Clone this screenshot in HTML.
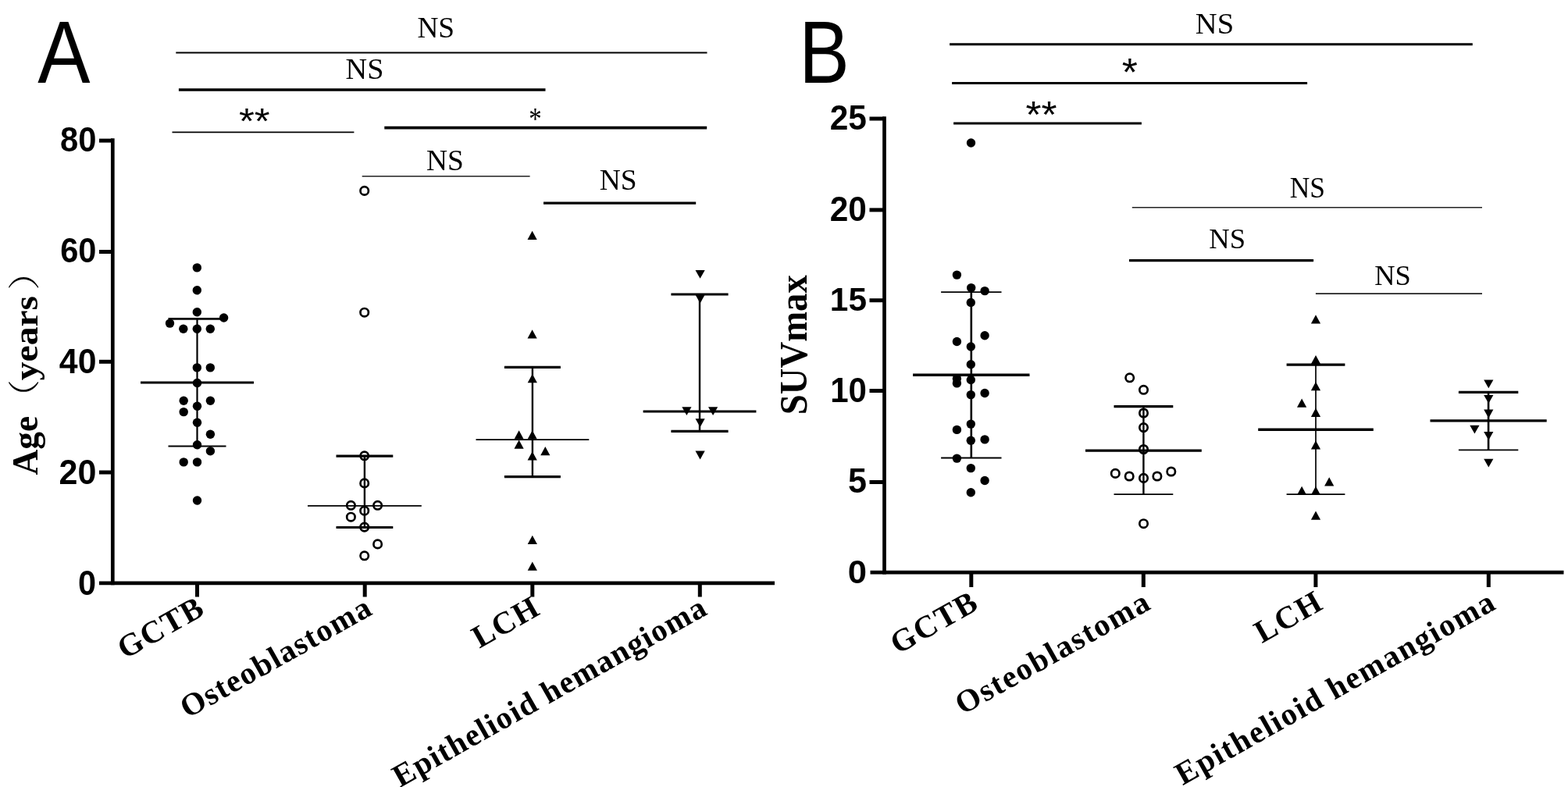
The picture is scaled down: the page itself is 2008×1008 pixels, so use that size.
<!DOCTYPE html>
<html><head><meta charset="utf-8"><title>Figure</title>
<style>html,body{margin:0;padding:0;background:#fff;}body{width:2008px;height:1008px;overflow:hidden;}svg{display:block;}</style>
</head><body>
<svg width="2008" height="1008" viewBox="0 0 2008 1008"><rect width="2008" height="1008" fill="#fff"/><line x1="144.3" y1="177.3" x2="144.3" y2="749.2" stroke="#000" stroke-width="4.7"/><line x1="127.0" y1="746.9" x2="992.0" y2="746.9" stroke="#000" stroke-width="4.7"/><line x1="127.0" y1="180.1" x2="144.3" y2="180.1" stroke="#000" stroke-width="5.0"/><line x1="127.0" y1="322.5" x2="144.3" y2="322.5" stroke="#000" stroke-width="5.0"/><line x1="127.0" y1="463.3" x2="144.3" y2="463.3" stroke="#000" stroke-width="5.0"/><line x1="127.0" y1="605.0" x2="144.3" y2="605.0" stroke="#000" stroke-width="5.0"/><line x1="252.5" y1="746.9" x2="252.5" y2="764.5" stroke="#000" stroke-width="5.0"/><line x1="467.2" y1="746.9" x2="467.2" y2="764.5" stroke="#000" stroke-width="5.0"/><line x1="681.8" y1="746.9" x2="681.8" y2="764.5" stroke="#000" stroke-width="5.0"/><line x1="896.3" y1="746.9" x2="896.3" y2="764.5" stroke="#000" stroke-width="5.0"/><text transform="matrix(0.9486,0,0,0.9920,76.98,194.40)" x="0" y="0" font-family="'Liberation Sans',Arial,sans-serif" font-size="44" font-weight="bold" >80</text><text transform="matrix(0.9443,0,0,0.9888,77.18,336.01)" x="0" y="0" font-family="'Liberation Sans',Arial,sans-serif" font-size="44" font-weight="bold" >60</text><text transform="matrix(0.9720,0,0,0.9920,75.87,478.10)" x="0" y="0" font-family="'Liberation Sans',Arial,sans-serif" font-size="44" font-weight="bold" >40</text><text transform="matrix(0.9792,0,0,1.0016,75.53,620.00)" x="0" y="0" font-family="'Liberation Sans',Arial,sans-serif" font-size="44" font-weight="bold" >20</text><text transform="matrix(0.9429,0,0,1.0080,100.05,761.90)" x="0" y="0" font-family="'Liberation Sans',Arial,sans-serif" font-size="44" font-weight="bold" >0</text><text transform="matrix(0,-0.9673,0.9939,0,47.61,608.58)" x="0" y="0" font-family="'Liberation Serif','Times New Roman',serif" font-size="47" font-weight="bold" >Age</text><text transform="matrix(0,-0.9585,0.8709,0,46.32,531.37)" x="0" y="0" font-family="'Noto Serif CJK SC','Noto Sans CJK SC',serif" font-size="47" font-weight="300" >（</text><text transform="matrix(0,-1.0133,0.9612,0,48.19,487.31)" x="0" y="0" font-family="'Liberation Serif','Times New Roman',serif" font-size="47" font-weight="bold" >years</text><text transform="matrix(0,-1.0340,0.8731,0,46.31,371.70)" x="0" y="0" font-family="'Noto Serif CJK SC','Noto Sans CJK SC',serif" font-size="47" font-weight="300" >）</text><text transform="translate(264.8,785.7) rotate(-29.4)" font-family="'Liberation Serif','Times New Roman',serif" font-size="40.5" font-weight="bold" text-anchor="end" letter-spacing="1.4">GCTB</text><text transform="translate(479.5,785.7) rotate(-29.4)" font-family="'Liberation Serif','Times New Roman',serif" font-size="40.5" font-weight="bold" text-anchor="end" letter-spacing="1.4">Osteoblastoma</text><text transform="translate(694.1,785.7) rotate(-29.4)" font-family="'Liberation Serif','Times New Roman',serif" font-size="40.5" font-weight="bold" text-anchor="end" letter-spacing="1.4">LCH</text><text transform="translate(908.6,785.7) rotate(-29.4)" font-family="'Liberation Serif','Times New Roman',serif" font-size="40.5" font-weight="bold" text-anchor="end" letter-spacing="1.4">Epithelioid hemangioma</text><circle cx="252.3" cy="342.9" r="5.7"/><circle cx="252.3" cy="371.8" r="5.7"/><circle cx="252.3" cy="399.8" r="5.7"/><circle cx="286.6" cy="407.0" r="5.7"/><circle cx="217.5" cy="414.1" r="5.7"/><circle cx="234.8" cy="421.3" r="5.7"/><circle cx="252.3" cy="421.3" r="5.7"/><circle cx="269.3" cy="421.3" r="5.7"/><circle cx="252.3" cy="470.9" r="5.7"/><circle cx="269.3" cy="470.9" r="5.7"/><circle cx="252.5" cy="490.5" r="5.7"/><circle cx="235.2" cy="513.2" r="5.7"/><circle cx="269.4" cy="513.2" r="5.7"/><circle cx="252.5" cy="520.2" r="5.7"/><circle cx="235.2" cy="527.6" r="5.7"/><circle cx="252.5" cy="541.3" r="5.7"/><circle cx="269.4" cy="556.2" r="5.7"/><circle cx="252.5" cy="569.8" r="5.7"/><circle cx="269.4" cy="577.7" r="5.7"/><circle cx="235.2" cy="591.9" r="5.7"/><circle cx="252.5" cy="591.9" r="5.7"/><circle cx="252.5" cy="641.0" r="5.7"/><line x1="252.5" y1="408.4" x2="252.5" y2="571.5" stroke="#000" stroke-width="2.2"/><line x1="215.5" y1="408.4" x2="289.5" y2="408.4" stroke="#000" stroke-width="2.8"/><line x1="215.5" y1="571.5" x2="289.5" y2="571.5" stroke="#000" stroke-width="2.2"/><line x1="180.0" y1="490.0" x2="325.0" y2="490.0" stroke="#000" stroke-width="3.2"/><circle cx="466.7" cy="244.4" r="5.2" fill="none" stroke="#000" stroke-width="2.7"/><circle cx="466.7" cy="400.2" r="5.2" fill="none" stroke="#000" stroke-width="2.7"/><circle cx="466.7" cy="583.8" r="5.2" fill="none" stroke="#000" stroke-width="2.7"/><circle cx="466.7" cy="618.9" r="5.2" fill="none" stroke="#000" stroke-width="2.7"/><circle cx="449.4" cy="647.3" r="5.2" fill="none" stroke="#000" stroke-width="2.7"/><circle cx="483.6" cy="647.3" r="5.2" fill="none" stroke="#000" stroke-width="2.7"/><circle cx="466.7" cy="654.2" r="5.2" fill="none" stroke="#000" stroke-width="2.7"/><circle cx="449.4" cy="662.2" r="5.2" fill="none" stroke="#000" stroke-width="2.7"/><circle cx="466.7" cy="675.1" r="5.2" fill="none" stroke="#000" stroke-width="2.7"/><circle cx="483.6" cy="696.9" r="5.2" fill="none" stroke="#000" stroke-width="2.7"/><circle cx="466.7" cy="711.8" r="5.2" fill="none" stroke="#000" stroke-width="2.7"/><line x1="466.9" y1="584.2" x2="466.9" y2="675.5" stroke="#000" stroke-width="2.4"/><line x1="430.5" y1="584.2" x2="503.3" y2="584.2" stroke="#000" stroke-width="3.2"/><line x1="430.5" y1="675.5" x2="503.3" y2="675.5" stroke="#000" stroke-width="3.2"/><line x1="394.0" y1="647.9" x2="539.8" y2="647.9" stroke="#000" stroke-width="1.8"/><path d="M675.5 307.0L687.7 307.0L681.6 295.7Z"/><path d="M675.5 433.6L687.7 433.6L681.6 422.3Z"/><path d="M675.7 490.3L687.9 490.3L681.8 479.0Z"/><path d="M658.5 562.5L670.7 562.5L664.6 551.2Z"/><path d="M675.6 562.5L687.8 562.5L681.7 551.2Z"/><path d="M658.5 574.8L670.7 574.8L664.6 563.5Z"/><path d="M692.2 583.2L704.4 583.2L698.3 571.9Z"/><path d="M675.6 589.5L687.8 589.5L681.7 578.2Z"/><path d="M675.7 697.0L687.9 697.0L681.8 685.7Z"/><path d="M675.7 730.7L687.9 730.7L681.8 719.4Z"/><line x1="681.9" y1="470.4" x2="681.9" y2="610.7" stroke="#000" stroke-width="2.4"/><line x1="645.9" y1="470.4" x2="717.9" y2="470.4" stroke="#000" stroke-width="3.2"/><line x1="645.9" y1="610.7" x2="717.9" y2="610.7" stroke="#000" stroke-width="3.2"/><line x1="609.5" y1="563.2" x2="754.3" y2="563.2" stroke="#000" stroke-width="1.8"/><path d="M890.5 345.9L902.7 345.9L896.6 356.7Z"/><path d="M890.5 377.6L902.7 377.6L896.6 388.4Z"/><path d="M873.3 521.3L885.5 521.3L879.4 532.1Z"/><path d="M907.0 521.3L919.2 521.3L913.1 532.1Z"/><path d="M890.5 536.2L902.7 536.2L896.6 547.0Z"/><path d="M890.5 577.6L902.7 577.6L896.6 588.4Z"/><line x1="896.0" y1="377.0" x2="896.0" y2="552.4" stroke="#000" stroke-width="2.4"/><line x1="859.4" y1="377.0" x2="932.6" y2="377.0" stroke="#000" stroke-width="3.2"/><line x1="859.4" y1="552.4" x2="932.6" y2="552.4" stroke="#000" stroke-width="3.2"/><line x1="823.6" y1="527.0" x2="968.4" y2="527.0" stroke="#000" stroke-width="3.2"/><text transform="matrix(1.0091,0,0,1.0101,534.39,47.85)" x="0" y="0" font-family="'Liberation Serif','Times New Roman',serif" font-size="37" font-weight="normal" >NS</text><line x1="225.3" y1="67.5" x2="905.5" y2="67.5" stroke="#000" stroke-width="2.0"/><text transform="matrix(1.0318,0,0,1.0182,442.57,101.45)" x="0" y="0" font-family="'Liberation Serif','Times New Roman',serif" font-size="37" font-weight="normal" >NS</text><line x1="228.9" y1="115.0" x2="698.5" y2="115.0" stroke="#000" stroke-width="3.6"/><text transform="matrix(1.2739,0,0,1.1786,305.94,170.91)" x="0" y="0" font-family="'Liberation Sans',Arial,sans-serif" font-size="40" font-weight="normal" >**</text><line x1="220.5" y1="169.3" x2="453.4" y2="169.3" stroke="#000" stroke-width="1.8"/><text transform="matrix(1.0917,0,0,1.3302,677.16,164.54)" x="0" y="0" font-family="'Liberation Serif','Times New Roman',serif" font-size="30" font-weight="normal" >*</text><line x1="492.3" y1="163.6" x2="905.2" y2="163.6" stroke="#000" stroke-width="3.8"/><text transform="matrix(1.0114,0,0,1.0182,545.89,218.25)" x="0" y="0" font-family="'Liberation Serif','Times New Roman',serif" font-size="37" font-weight="normal" >NS</text><line x1="463.7" y1="225.8" x2="678.6" y2="225.8" stroke="#222" stroke-width="1.6"/><text transform="matrix(1.0114,0,0,1.0182,767.69,243.25)" x="0" y="0" font-family="'Liberation Serif','Times New Roman',serif" font-size="37" font-weight="normal" >NS</text><line x1="696.0" y1="260.2" x2="891.2" y2="260.2" stroke="#000" stroke-width="3.2"/><text transform="matrix(0.9010,0,0,1.0039,48.27,106.20)" x="0" y="0" font-family="'Liberation Sans',Arial,sans-serif" font-size="112" font-weight="normal" >A</text><text transform="matrix(0.8639,0,0,1.0026,1023.31,106.20)" x="0" y="0" font-family="'Liberation Sans',Arial,sans-serif" font-size="112" font-weight="normal" >B</text><line x1="1132.5" y1="149.3" x2="1132.5" y2="735.6" stroke="#000" stroke-width="4.7"/><line x1="1114.5" y1="733.2" x2="2002.5" y2="733.2" stroke="#000" stroke-width="4.7"/><line x1="1113.5" y1="152.0" x2="1132.5" y2="152.0" stroke="#000" stroke-width="5.0"/><line x1="1113.5" y1="268.9" x2="1132.5" y2="268.9" stroke="#000" stroke-width="5.0"/><line x1="1113.5" y1="384.7" x2="1132.5" y2="384.7" stroke="#000" stroke-width="5.0"/><line x1="1113.5" y1="500.5" x2="1132.5" y2="500.5" stroke="#000" stroke-width="5.0"/><line x1="1113.5" y1="617.5" x2="1132.5" y2="617.5" stroke="#000" stroke-width="5.0"/><line x1="1243.8" y1="733.2" x2="1243.8" y2="752.0" stroke="#000" stroke-width="5.0"/><line x1="1464.3" y1="733.2" x2="1464.3" y2="752.0" stroke="#000" stroke-width="5.0"/><line x1="1684.9" y1="733.2" x2="1684.9" y2="752.0" stroke="#000" stroke-width="5.0"/><line x1="1906.3" y1="733.2" x2="1906.3" y2="752.0" stroke="#000" stroke-width="5.0"/><text transform="matrix(0.9643,0,0,0.9920,1062.75,165.90)" x="0" y="0" font-family="'Liberation Sans',Arial,sans-serif" font-size="44" font-weight="bold" >25</text><text transform="matrix(0.9639,0,0,0.9984,1062.75,282.90)" x="0" y="0" font-family="'Liberation Sans',Arial,sans-serif" font-size="44" font-weight="bold" >20</text><text transform="matrix(0.9622,0,0,0.9691,1062.85,398.12)" x="0" y="0" font-family="'Liberation Sans',Arial,sans-serif" font-size="44" font-weight="bold" >15</text><text transform="matrix(0.9551,0,0,0.9952,1063.17,514.90)" x="0" y="0" font-family="'Liberation Sans',Arial,sans-serif" font-size="44" font-weight="bold" >10</text><text transform="matrix(0.9793,0,0,1.0146,1086.03,631.49)" x="0" y="0" font-family="'Liberation Sans',Arial,sans-serif" font-size="44" font-weight="bold" >5</text><text transform="matrix(0.9905,0,0,0.9472,1085.77,747.03)" x="0" y="0" font-family="'Liberation Sans',Arial,sans-serif" font-size="44" font-weight="bold" >0</text><text transform="matrix(0,-0.9732,1.0554,0,1032.91,531.23)" x="0" y="0" font-family="'Liberation Serif','Times New Roman',serif" font-size="48" font-weight="bold" >SUVmax</text><text transform="translate(1256.1,778.5) rotate(-29.4)" font-family="'Liberation Serif','Times New Roman',serif" font-size="40.5" font-weight="bold" text-anchor="end" letter-spacing="1.8">GCTB</text><text transform="translate(1476.6,778.5) rotate(-29.4)" font-family="'Liberation Serif','Times New Roman',serif" font-size="40.5" font-weight="bold" text-anchor="end" letter-spacing="1.8">Osteoblastoma</text><text transform="translate(1697.2,778.5) rotate(-29.4)" font-family="'Liberation Serif','Times New Roman',serif" font-size="40.5" font-weight="bold" text-anchor="end" letter-spacing="1.8">LCH</text><text transform="translate(1918.6,778.5) rotate(-29.4)" font-family="'Liberation Serif','Times New Roman',serif" font-size="40.5" font-weight="bold" text-anchor="end" letter-spacing="1.8">Epithelioid hemangioma</text><circle cx="1243.5" cy="183.0" r="5.7"/><circle cx="1225.4" cy="352.1" r="5.7"/><circle cx="1243.7" cy="368.6" r="5.7"/><circle cx="1261.1" cy="372.6" r="5.7"/><circle cx="1243.3" cy="387.5" r="5.7"/><circle cx="1261.1" cy="429.7" r="5.7"/><circle cx="1225.4" cy="437.5" r="5.7"/><circle cx="1243.3" cy="444.0" r="5.7"/><circle cx="1243.3" cy="466.8" r="5.7"/><circle cx="1225.4" cy="485.0" r="5.7"/><circle cx="1225.4" cy="490.9" r="5.7"/><circle cx="1243.3" cy="486.5" r="5.7"/><circle cx="1261.1" cy="503.5" r="5.7"/><circle cx="1243.3" cy="505.6" r="5.7"/><circle cx="1243.3" cy="543.1" r="5.7"/><circle cx="1225.4" cy="550.4" r="5.7"/><circle cx="1243.3" cy="564.3" r="5.7"/><circle cx="1261.1" cy="562.9" r="5.7"/><circle cx="1225.4" cy="587.1" r="5.7"/><circle cx="1243.3" cy="599.6" r="5.7"/><circle cx="1261.1" cy="615.5" r="5.7"/><circle cx="1243.3" cy="630.8" r="5.7"/><line x1="1243.8" y1="374.2" x2="1243.8" y2="586.5" stroke="#000" stroke-width="2.6"/><line x1="1205.1" y1="374.2" x2="1282.5" y2="374.2" stroke="#000" stroke-width="1.8"/><line x1="1205.1" y1="586.5" x2="1282.5" y2="586.5" stroke="#000" stroke-width="1.8"/><line x1="1169.1" y1="480.3" x2="1318.5" y2="480.3" stroke="#000" stroke-width="3.4"/><circle cx="1446.7" cy="483.8" r="5.2" fill="none" stroke="#000" stroke-width="2.7"/><circle cx="1464.5" cy="499.3" r="5.2" fill="none" stroke="#000" stroke-width="2.7"/><circle cx="1464.5" cy="529.0" r="5.2" fill="none" stroke="#000" stroke-width="2.7"/><circle cx="1464.5" cy="547.6" r="5.2" fill="none" stroke="#000" stroke-width="2.7"/><circle cx="1464.5" cy="575.5" r="5.2" fill="none" stroke="#000" stroke-width="2.7"/><circle cx="1428.3" cy="606.4" r="5.2" fill="none" stroke="#000" stroke-width="2.7"/><circle cx="1446.2" cy="610.0" r="5.2" fill="none" stroke="#000" stroke-width="2.7"/><circle cx="1464.5" cy="612.4" r="5.2" fill="none" stroke="#000" stroke-width="2.7"/><circle cx="1481.9" cy="610.0" r="5.2" fill="none" stroke="#000" stroke-width="2.7"/><circle cx="1499.8" cy="604.0" r="5.2" fill="none" stroke="#000" stroke-width="2.7"/><circle cx="1464.5" cy="670.7" r="5.2" fill="none" stroke="#000" stroke-width="2.7"/><line x1="1464.4" y1="520.7" x2="1464.4" y2="633.1" stroke="#000" stroke-width="2.4"/><line x1="1426.5" y1="520.7" x2="1502.3" y2="520.7" stroke="#000" stroke-width="3.2"/><line x1="1426.5" y1="633.1" x2="1502.3" y2="633.1" stroke="#000" stroke-width="1.8"/><line x1="1390.0" y1="577.1" x2="1538.8" y2="577.1" stroke="#000" stroke-width="3.4"/><path d="M1678.9 414.5L1691.1 414.5L1685.0 403.2Z"/><path d="M1678.9 466.3L1691.1 466.3L1685.0 455.0Z"/><path d="M1678.9 500.2L1691.1 500.2L1685.0 488.9Z"/><path d="M1661.0 521.8L1673.2 521.8L1667.1 510.5Z"/><path d="M1678.9 533.9L1691.1 533.9L1685.0 522.6Z"/><path d="M1678.9 575.6L1691.1 575.6L1685.0 564.3Z"/><path d="M1696.1 622.5L1708.3 622.5L1702.2 611.2Z"/><path d="M1661.0 634.0L1673.2 634.0L1667.1 622.7Z"/><path d="M1678.9 634.0L1691.1 634.0L1685.0 622.7Z"/><path d="M1678.9 665.7L1691.1 665.7L1685.0 654.4Z"/><line x1="1685.0" y1="467.1" x2="1685.0" y2="633.2" stroke="#000" stroke-width="1.7"/><line x1="1647.6" y1="467.1" x2="1722.4" y2="467.1" stroke="#000" stroke-width="3.2"/><line x1="1647.6" y1="633.2" x2="1722.4" y2="633.2" stroke="#000" stroke-width="1.8"/><line x1="1611.2" y1="550.3" x2="1758.8" y2="550.3" stroke="#000" stroke-width="3.4"/><path d="M1900.2 486.4L1912.4 486.4L1906.3 497.2Z"/><path d="M1900.2 506.0L1912.4 506.0L1906.3 516.8Z"/><path d="M1900.2 524.6L1912.4 524.6L1906.3 535.4Z"/><path d="M1882.3 544.8L1894.5 544.8L1888.4 555.6Z"/><path d="M1900.2 552.9L1912.4 552.9L1906.3 563.7Z"/><path d="M1900.2 587.7L1912.4 587.7L1906.3 598.5Z"/><line x1="1906.1" y1="502.3" x2="1906.1" y2="576.4" stroke="#000" stroke-width="2.6"/><line x1="1867.9" y1="502.3" x2="1944.3" y2="502.3" stroke="#000" stroke-width="3.2"/><line x1="1867.9" y1="576.4" x2="1944.3" y2="576.4" stroke="#000" stroke-width="1.8"/><line x1="1831.5" y1="538.9" x2="1980.7" y2="538.9" stroke="#000" stroke-width="3.4"/><text transform="matrix(1.0432,0,0,1.0101,1530.86,42.85)" x="0" y="0" font-family="'Liberation Serif','Times New Roman',serif" font-size="37" font-weight="normal" >NS</text><line x1="1216.1" y1="56.8" x2="1885.8" y2="56.8" stroke="#000" stroke-width="3.0"/><text transform="matrix(1.2929,0,0,1.2643,1436.83,109.87)" x="0" y="0" font-family="'Liberation Sans',Arial,sans-serif" font-size="40" font-weight="normal" >*</text><line x1="1219.1" y1="106.6" x2="1674.1" y2="106.6" stroke="#000" stroke-width="3.0"/><text transform="matrix(1.2840,0,0,1.1857,1313.54,162.71)" x="0" y="0" font-family="'Liberation Sans',Arial,sans-serif" font-size="40" font-weight="normal" >**</text><line x1="1221.1" y1="158.1" x2="1461.9" y2="158.1" stroke="#000" stroke-width="3.0"/><text transform="matrix(0.9568,0,0,1.0020,1651.74,253.05)" x="0" y="0" font-family="'Liberation Serif','Times New Roman',serif" font-size="37" font-weight="normal" >NS</text><line x1="1449.8" y1="265.7" x2="1898.0" y2="265.7" stroke="#222" stroke-width="1.6"/><text transform="matrix(0.9886,0,0,0.9535,1548.31,318.46)" x="0" y="0" font-family="'Liberation Serif','Times New Roman',serif" font-size="37" font-weight="normal" >NS</text><line x1="1446.0" y1="333.7" x2="1682.1" y2="333.7" stroke="#000" stroke-width="3.2"/><text transform="matrix(0.9841,0,0,0.9576,1760.32,365.36)" x="0" y="0" font-family="'Liberation Serif','Times New Roman',serif" font-size="37" font-weight="normal" >NS</text><line x1="1684.9" y1="376.1" x2="1898.0" y2="376.1" stroke="#222" stroke-width="1.6"/></svg>
</body></html>
